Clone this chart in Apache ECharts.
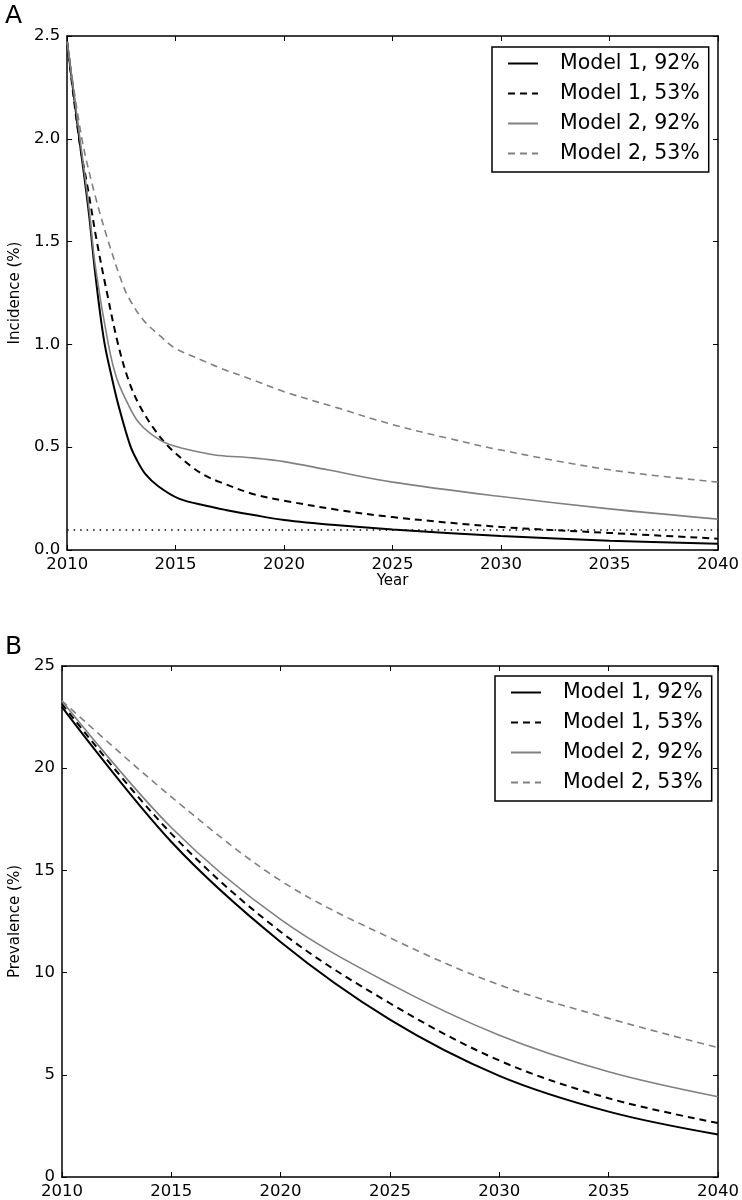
<!DOCTYPE html>
<html><head><meta charset="utf-8">
<script src="https://cdn.jsdelivr.net/npm/echarts@6/dist/echarts.min.js"></script>
<style>html,body{margin:0;padding:0;background:#fff}#c{width:742px;height:1200px}</style>
</head><body><div id="c"></div>
<script>
// ---------- data ----------
const seriesNames = ['Model 1, 92%', 'Model 1, 53%', 'Model 2, 92%', 'Model 2, 53%'];

// Panel A: incidence (%) [year, value]
const incM1_92 = [[2010,2.47],[2010.5,2.05],[2011,1.64],[2011.3,1.34],[2011.7,1.02],[2012.1,0.82],[2012.4,0.69],[2012.9,0.51],[2013.2,0.44],[2013.6,0.37],[2014.2,0.31],[2015.15,0.25],[2016.4,0.215],[2017.3,0.195],[2018.6,0.17],[2020,0.146],[2022.5,0.12],[2025,0.10],[2030,0.068],[2035,0.045],[2040,0.03]];
const incM1_53 = [[2010,2.47],[2010.55,2.0],[2011,1.73],[2011.37,1.5],[2011.8,1.27],[2012.35,1.0],[2012.85,0.82],[2013.35,0.7],[2014,0.59],[2014.7,0.5],[2015.8,0.40],[2016.4,0.36],[2017.05,0.33],[2018.65,0.27],[2020,0.24],[2022.5,0.195],[2025,0.16],[2030,0.112],[2035,0.083],[2040,0.055]];
const incM2_92 = [[2010,2.47],[2010.5,2.07],[2011,1.67],[2011.3,1.38],[2011.9,1.0],[2012.3,0.83],[2012.85,0.70],[2013.3,0.62],[2013.8,0.57],[2014.55,0.52],[2015.5,0.49],[2016.4,0.47],[2017,0.46],[2018.65,0.447],[2020,0.43],[2022,0.39],[2025,0.33],[2030,0.26],[2035,0.20],[2040,0.15]];
const incM2_53 = [[2010,2.47],[2010.68,2.0],[2011.3,1.72],[2011.9,1.5],[2012.5,1.31],[2012.82,1.23],[2013.5,1.12],[2014.3,1.04],[2015,0.98],[2016.4,0.915],[2017.05,0.885],[2018.5,0.83],[2020,0.77],[2022.5,0.69],[2025,0.61],[2027.5,0.545],[2030,0.486],[2035,0.39],[2040,0.33]];
const incThreshold = 0.1;

// Panel B: prevalence (%)
const prevYears = [2010, 2015, 2020, 2025, 2030, 2035, 2040];
const prevM1_92 = [23.0, 16.4, 11.5, 7.7, 4.95, 3.2, 2.08];
const prevM1_53 = [23.15, 16.8, 12.0, 8.5, 5.7, 3.85, 2.64];
const prevM2_92 = [23.3, 17.1, 12.6, 9.45, 6.94, 5.15, 3.93];
const prevM2_53 = [23.3, 18.6, 14.5, 11.7, 9.4, 7.76, 6.33];

// ---------- styles ----------
const FONT = 'DejaVu Sans';
const styles = [
  {color:'#000', width:2, type:'solid'},
  {color:'#000', width:2, type:[7,5]},
  {color:'#808080', width:1.6, type:'solid'},
  {color:'#808080', width:1.6, type:[7,5]}
];

function xAx(grid, pos, showLabels, name) {
  return {
    type:'value', gridIndex:grid, position:pos, min:2010, max:2040, interval:5,
    name: name || '', nameLocation:'middle', nameGap:23,
    nameTextStyle:{fontFamily:FONT, fontSize:15, color:'#000'},
    axisLine:{show:true, onZero:false, lineStyle:{color:'#000', width:1.5}},
    axisTick:{show:true, inside:true, length:5, lineStyle:{color:'#000', width:1}},
    axisLabel:{show:showLabels, color:'#000', fontSize:16.5, fontFamily:FONT, margin:6,
      formatter: v => String(v)},
    splitLine:{show:false}
  };
}
function yAx(grid, pos, showLabels, max, interval, decimals, name, gap) {
  return {
    type:'value', gridIndex:grid, position:pos, min:0, max:max, interval:interval,
    name: name || '', nameLocation:'middle', nameGap:gap || 40,
    nameTextStyle:{fontFamily:FONT, fontSize:15, color:'#000'},
    axisLine:{show:true, onZero:false, lineStyle:{color:'#000', width:1.5}},
    axisTick:{show:true, inside:true, length:5, lineStyle:{color:'#000', width:1}},
    axisLabel:{show:showLabels, color:'#000', fontSize:16.5, fontFamily:FONT, margin:7,
      formatter: v => v.toFixed(decimals)},
    splitLine:{show:false}
  };
}
function mkSeries(name, data, st, xi, yi, extra) {
  return Object.assign({
    type:'line', name:name, data:data, xAxisIndex:xi, yAxisIndex:yi,
    symbol:'none', showSymbol:false, smooth:0.35,
    lineStyle:{color:st.color, width:st.width, type:st.type},
    itemStyle:{color:st.color}, silent:true, clip:true
  }, extra || {});
}
function mkLegend(left, top) {
  return {
    orient:'vertical', left:left, top:top, data:seriesNames,
    itemWidth:30, itemHeight:20, itemGap:9, padding:[6,9,8,15],
    borderColor:'#000', borderWidth:1.5, borderRadius:0, backgroundColor:'#fff',
    selectedMode:false, z:10,
    itemStyle:{opacity:0},
    textStyle:{fontSize:20.5, fontFamily:FONT, color:'#000', padding:[0,0,0,17], lineHeight:20}
  };
}

const incData = [incM1_92, incM1_53, incM2_92, incM2_53];
const prevData = [prevM1_92, prevM1_53, prevM2_92, prevM2_53].map(vals => prevYears.map((y, i) => [y, vals[i]]));
const series = [];
incData.forEach((d, i) => series.push(mkSeries(seriesNames[i], d, styles[i], 0, 0, i === 0 ? {
  markLine:{silent:true, symbol:['none','none'], label:{show:false}, animation:false,
    lineStyle:{color:'#000', type:[1.5,5], width:1.5}, data:[{yAxis:incThreshold}]}
} : {})));
prevData.forEach((d, i) => series.push(mkSeries(seriesNames[i], d, styles[i], 2, 2)));

const chart = echarts.init(document.getElementById('c'), null, {renderer:'canvas'});
chart.setOption({
  animation:false,
  backgroundColor:'#fff',
  title:[
    {text:'A', left:0, top:-1, textStyle:{fontFamily:FONT, fontSize:25, fontWeight:'normal', color:'#000'}},
    {text:'B', left:0, top:630, textStyle:{fontFamily:FONT, fontSize:25, fontWeight:'normal', color:'#000'}}
  ],
  legend:[mkLegend(492, 47), mkLegend(495, 676)],
  grid:[
    {left:60, right:23, top:36, height:514, containLabel:false},
    {left:61, right:20, top:666, height:515, containLabel:false}
  ],
  xAxis:[
    xAx(0, 'bottom', true, 'Year'), xAx(0, 'top', false),
    xAx(1, 'bottom', true), xAx(1, 'top', false)
  ],
  yAxis:[
    yAx(0, 'left', true, 2.5, 0.5, 1, 'Incidence (%)', 42), yAx(0, 'right', false, 2.5, 0.5, 1),
    yAx(1, 'left', true, 25, 5, 0, 'Prevalence (%)', 28), yAx(1, 'right', false, 25, 5, 0)
  ],
  series: series
});
</script></body></html>
